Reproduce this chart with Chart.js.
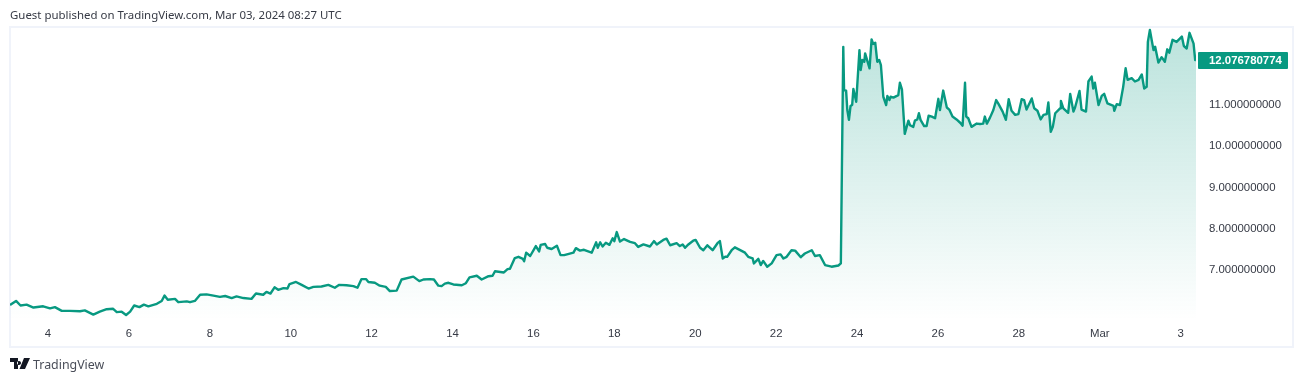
<!DOCTYPE html>
<html><head><meta charset="utf-8">
<script src="https://cdn.jsdelivr.net/npm/chart.js@4"></script>
<style>
html,body{margin:0;padding:0;background:#fff;width:1304px;height:382px;overflow:hidden}
#frame{position:absolute;left:9px;top:26px;width:1281px;height:318px;border:2px solid #f0f3fa}
canvas{position:absolute;left:0;top:0}
.t{position:absolute;font-family:"Noto Sans",sans-serif;color:#363a45;white-space:nowrap}
#head{left:10px;top:7px;font-size:11.45px;line-height:16px}
#brand{left:33px;top:356px;font-size:12.4px;line-height:17px;color:#4a4e59}
#logo{position:absolute;left:10px;top:358px}
</style></head><body>
<div id="frame"></div>
<canvas id="c" width="1304" height="382"></canvas>
<div class="t" id="head">Guest published on TradingView.com, Mar 03, 2024 08:27 UTC</div>
<svg id="logo" width="20" height="12" viewBox="0 0 20 12"><path fill="#131722" d="M0 0h8v11H4V4H0zM9 3a2 2 0 1 0 .01 0zM14 0h6l-5 11H9.500z"/></svg>
<div class="t" id="brand">TradingView</div>
<script>
const days = [3.06,3.21,3.32,3.47,3.64,3.88,4.05,4.17,4.34,4.54,4.79,4.91,5.12,5.28,5.45,5.61,5.70,5.82,5.93,6.03,6.13,6.26,6.37,6.48,6.69,6.81,6.88,6.96,7.14,7.22,7.43,7.51,7.63,7.76,7.92,8.09,8.25,8.38,8.54,8.66,8.83,9.03,9.14,9.32,9.40,9.50,9.60,9.69,9.82,9.92,9.97,10.13,10.27,10.44,10.56,10.76,10.93,11.09,11.20,11.38,11.55,11.65,11.75,11.86,11.92,12.08,12.20,12.35,12.45,12.62,12.74,13.03,13.18,13.28,13.44,
13.54,13.65,13.73,13.81,13.90,14.02,14.23,14.33,14.42,14.60,14.72,14.89,14.99,15.05,15.27,15.36,15.42,15.54,15.63,15.74,15.77,15.82,15.92,16.06,16.14,16.18,16.29,16.34,16.45,16.58,16.67,16.76,16.99,17.05,17.15,17.25,17.44,17.55,17.59,17.65,17.71,17.79,17.88,17.96,18.00,18.06,18.14,18.24,18.39,18.51,18.59,18.72,18.88,18.98,19.05,19.21,19.29,19.38,19.54,19.62,19.69,19.75,19.83,19.95,20.01,20.12,20.20,20.30,20.43,20.55,20.61,20.68,20.74,20.79,20.90,20.98,21.23,21.31,21.42,21.45,21.56,21.62,21.68,21.78,21.89,22.01,22.11,22.18,22.26,22.38,22.47,22.61,22.71,22.88,22.96,23.08,23.21,23.37,23.54,23.60,
23.66,23.68,23.73,23.76,23.80,23.84,23.88,23.91,23.98,24.06,24.09,24.13,24.18,24.20,24.31,24.36,24.40,24.45,24.50,24.55,24.59,24.65,24.72,24.75,24.80,24.83,24.90,25.02,25.06,25.11,25.18,25.27,25.31,25.39,25.43,25.49,25.53,25.57,25.66,25.72,25.77,25.85,25.93,26.01,26.05,26.13,26.22,26.28,26.36,26.46,26.55,26.61,26.67,26.70,26.75,26.83,26.96,27.04,27.12,27.16,27.21,27.29,27.37,27.44,27.49,27.60,27.68,27.75,27.82,27.91,27.99,28.07,28.13,28.19,28.32,28.38,28.46,28.54,28.61,28.69,28.73,28.79,28.84,28.90,29.02,29.04,29.10,29.22,29.27,
29.35,29.39,29.50,29.55,29.66,29.72,29.80,29.84,29.88,29.97,30.05,30.11,30.19,30.34,30.36,30.42,30.50,30.58,30.64,30.69,30.79,30.87,30.96,31.04,31.10,31.16,31.19,31.24,31.33,31.37,31.45,31.53,31.61,31.67,31.72,31.80,31.90,32.03,32.08,32.15,32.22,32.32,32.36,32.38];
const prices = [6.15,6.25,6.14,6.16,6.09,6.12,6.07,6.10,6.01,6.01,6.00,6.02,5.92,5.99,6.05,6.06,5.98,5.99,5.91,5.99,6.14,6.10,6.16,6.12,6.18,6.25,6.38,6.28,6.30,6.22,6.24,6.22,6.25,6.40,6.41,6.38,6.35,6.37,6.32,6.36,6.32,6.30,6.43,6.40,6.47,6.43,6.58,6.52,6.56,6.55,6.66,6.71,6.64,6.55,6.59,6.60,6.64,6.57,6.64,6.63,6.61,6.57,6.78,6.78,6.71,6.69,6.62,6.59,6.49,6.50,6.77,6.84,6.73,6.77,6.78,
6.77,6.62,6.61,6.67,6.69,6.65,6.63,6.68,6.82,6.86,6.77,6.85,6.86,6.97,6.94,7.02,7.03,7.29,7.32,7.27,7.21,7.42,7.34,7.58,7.45,7.61,7.63,7.54,7.51,7.59,7.36,7.36,7.42,7.53,7.47,7.49,7.42,7.67,7.54,7.67,7.57,7.66,7.61,7.77,7.70,7.92,7.69,7.75,7.68,7.65,7.56,7.62,7.57,7.70,7.62,7.73,7.76,7.60,7.65,7.58,7.62,7.54,7.62,7.71,7.73,7.54,7.48,7.60,7.48,7.65,7.70,7.28,7.32,7.32,7.48,7.55,7.42,7.32,7.28,7.16,7.27,7.12,7.22,7.08,7.16,7.36,7.38,7.28,7.32,7.48,7.47,7.31,7.40,7.48,7.34,7.36,7.12,7.08,7.11,7.16,
12.41,11.36,11.35,10.88,10.64,10.98,11.00,11.39,11.08,12.33,11.85,12.09,12.05,12.25,11.89,12.59,12.48,12.51,12.05,12.09,11.97,11.20,11.00,11.22,11.12,11.20,11.18,11.24,11.54,11.38,10.30,10.62,10.51,10.47,10.62,10.65,10.80,10.64,10.49,10.49,10.74,10.72,10.68,11.15,10.88,11.35,10.94,10.89,10.72,10.65,10.57,10.50,11.54,10.72,10.68,10.47,10.55,10.54,10.55,10.72,10.55,10.70,10.88,11.12,11.04,10.84,10.64,11.14,10.86,10.76,10.78,11.14,11.12,10.89,11.16,10.92,10.86,10.65,10.76,10.78,11.06,10.35,10.47,10.80,10.92,11.10,10.92,10.81,11.27,
10.84,10.94,11.34,10.89,10.84,11.57,11.69,11.40,11.54,11.00,11.22,11.27,11.04,10.98,10.86,11.02,11.00,11.44,11.89,11.61,11.65,11.57,11.61,11.74,11.40,11.44,12.53,12.82,12.33,12.41,12.03,12.16,12.05,12.35,12.27,12.58,12.53,12.66,12.43,12.37,12.75,12.49,12.09,12.0768];
const priceTicks = [7,8,9,10,11];
const monthTicks = {30:'Mar',32:'3'};
const lastLabel = '12.076780774';
const FONT = '"Liberation Sans", sans-serif';
const priceTag = {
  id:'priceTag',
  afterDraw(ch){
    const y = ch.scales.y.getPixelForValue(prices[prices.length-1]);
    const ctx = ch.ctx, x0 = ch.chartArea.right+2;
    ctx.save();
    ctx.fillStyle = '#089981';
    ctx.beginPath(); ctx.roundRect(x0, y-8.5, 90, 17, 1); ctx.fill();
    ctx.fillStyle = '#fff';
    ctx.font = 'bold 11.4px '+FONT;
    ctx.textAlign='left'; ctx.textBaseline='middle';
    ctx.fillText(lastLabel, x0+11, y+0.5);
    ctx.restore();
  }
};
new Chart(document.getElementById('c'),{
  type:'line',
  data:{datasets:[{
    data:days.map((d,i)=>({x:d,y:prices[i]})),
    borderColor:'#089981',borderWidth:2.4,pointRadius:0,tension:0,
    borderJoinStyle:'round',
    fill:'start',
    backgroundColor(ctx){
      const a = ctx.chart.chartArea; if(!a) return 'transparent';
      const g = ctx.chart.ctx.createLinearGradient(0,a.top,0,a.bottom);
      g.addColorStop(0,'rgba(8,153,129,0.28)');
      g.addColorStop(1,'rgba(8,153,129,0)');
      return g;
    }
  }]},
  options:{
    responsive:false,animation:false,
    layout:{padding:{left:10,top:28,right:11,bottom:35}},
    plugins:{legend:{display:false},tooltip:{enabled:false}},
    scales:{
      x:{type:'linear',min:3.06,max:32.38,
        afterFit(s){s.height=27},
        grid:{display:false},border:{display:false},
        afterBuildTicks(s){s.ticks=[4,6,8,10,12,14,16,18,20,22,24,26,28,30,32].map(v=>({value:v}))},
        ticks:{autoSkip:false,maxRotation:0,padding:-1,color:'#363a45',font:{family:FONT,size:11.4},
          callback:v=>monthTicks[v]||String(v)}},
      y:{position:'right',min:5.788,max:12.867,
        afterFit(s){s.width=97},
        grid:{display:false},border:{display:false},
        afterBuildTicks(s){s.ticks=priceTicks.map(v=>({value:v}))},
        ticks:{padding:5,color:'#363a45',font:{family:FONT,size:11.4},
          callback:v=>v.toFixed(9)}}
    }
  },
  plugins:[priceTag]
});
</script>
</body></html>
